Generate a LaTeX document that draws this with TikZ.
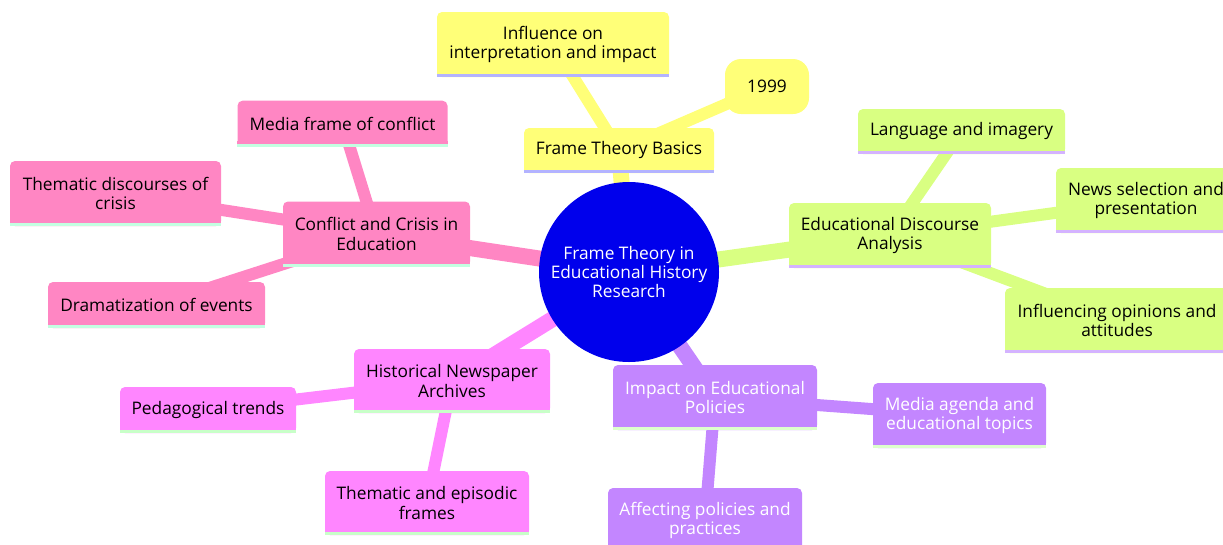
\documentclass[tikz,border=0pt]{standalone}
\usepackage{fontspec}
\setmainfont{Open Sans}
\pgfdeclarelayer{background}
\pgfsetlayers{background,main}
\definecolor{rootC}{HTML}{0000EC}
\definecolor{fillY}{HTML}{FFFF78}
\definecolor{lineY}{HTML}{B3B3FF}
\definecolor{fillG}{HTML}{D9FF82}
\definecolor{lineG}{HTML}{D4B3FF}
\definecolor{fillP}{HTML}{C386FF}
\definecolor{lineP}{HTML}{DDFFCC}
\definecolor{fillM}{HTML}{FF86FF}
\definecolor{lineM}{HTML}{C8FFC8}
\definecolor{fillK}{HTML}{FF86C3}
\definecolor{lineK}{HTML}{C3FFE1}
\newcommand\mmfont{\fontsize{17.3}{19.3}\selectfont}
\tikzset{
  mm/.style={rectangle, rounded corners=5pt, inner sep=0pt, align=center, font=\mmfont},
  secY/.style={fill=fillY, text=black},
  secG/.style={fill=fillG, text=black},
  secP/.style={fill=fillP, text=white},
  secM/.style={fill=fillM, text=black},
  secK/.style={fill=fillK, text=black},
  edgeroot/.style={line width=16pt},
  edgechild/.style={line width=12pt},
}
\newcommand\mmbox[7]{%
  \node[mm, sec#6, minimum width=#4pt, minimum height=#5pt] (#1) at (#2,#3) {#7};
  \fill[fill#6] (#1.south west) rectangle ([yshift=6pt]#1.south east);
  \fill[line#6] (#1.south west) rectangle ([yshift=3pt]#1.south east);
}
\begin{document}
\begin{tikzpicture}[x=1pt,y=-1pt]
\useasboundingbox (0,0) rectangle (1223,544);
\clip (0,0) rectangle (1223,544);
% root
\node[circle, fill=rootC, minimum size=180pt, inner sep=0pt, align=center, font=\mmfont, text=white] (root) at (629,272) {Frame Theory in\\Educational History\\Research};
% yellow
\mmbox{ftb}{619}{150.5}{190}{45}{Y}{Frame Theory Basics}
\mmbox{infl}{553}{44.5}{232}{65}{Y}{Influence on\\interpretation and impact}
\node[mm, secY, rounded corners=16pt, minimum width=84pt, minimum height=55pt] (y1999) at (767,86.5) {1999};
% green
\mmbox{eda}{890}{235.5}{202}{65}{G}{Educational Discourse\\Analysis}
\mmbox{lang}{961.5}{131.5}{207}{45}{G}{Language and imagery}
\mmbox{news}{1146}{200.5}{180}{65}{G}{News selection and\\presentation}
\mmbox{opin}{1117}{320.5}{224}{65}{G}{Influencing opinions and\\attitudes}
% purple
\mmbox{impact}{715}{397.5}{204}{65}{P}{Impact on Educational\\Policies}
\mmbox{agenda}{959.5}{415.5}{173}{65}{P}{Media agenda and\\educational topics}
\mmbox{affect}{705}{520.5}{194}{65}{P}{Affecting policies and\\practices}
% magenta
\mmbox{hna}{452}{381}{196}{64}{M}{Historical Newspaper\\Archives}
\mmbox{peda}{208}{410}{176}{46}{M}{Pedagogical trends}
\mmbox{thep}{427}{503}{204}{64}{M}{Thematic and episodic\\frames}
% pink
\mmbox{confl}{376.5}{234}{187}{65}{K}{Conflict and Crisis in\\Education}
\mmbox{mfc}{342.5}{123.7}{210}{46}{K}{Media frame of conflict}
\mmbox{them}{115.5}{193.5}{211}{65}{K}{Thematic discourses of\\crisis}
\mmbox{drama}{156.5}{305}{217}{46}{K}{Dramatization of events}
% edges
\begin{pgfonlayer}{background}
\draw[edgeroot, draw=fillY] (root.center) -- (ftb.center);
\draw[edgeroot, draw=fillG] (root.center) -- (eda.center);
\draw[edgeroot, draw=fillP] (root.center) -- (impact.center);
\draw[edgeroot, draw=fillM] (root.center) -- (hna.center);
\draw[edgeroot, draw=fillK] (root.center) -- (confl.center);
\draw[edgechild, draw=fillY] (ftb.center) -- (infl.center);
\draw[edgechild, draw=fillY] (ftb.center) -- (y1999.center);
\draw[edgechild, draw=fillG] (eda.center) -- (lang.center);
\draw[edgechild, draw=fillG] (eda.center) -- (news.center);
\draw[edgechild, draw=fillG] (eda.center) -- (opin.center);
\draw[edgechild, draw=fillP] (impact.center) -- (agenda.center);
\draw[edgechild, draw=fillP] (impact.center) -- (affect.center);
\draw[edgechild, draw=fillM] (hna.center) -- (peda.center);
\draw[edgechild, draw=fillM] (hna.center) -- (thep.center);
\draw[edgechild, draw=fillK] (confl.center) -- (mfc.center);
\draw[edgechild, draw=fillK] (confl.center) -- (them.center);
\draw[edgechild, draw=fillK] (confl.center) -- (drama.center);
\end{pgfonlayer}
\end{tikzpicture}
\end{document}
